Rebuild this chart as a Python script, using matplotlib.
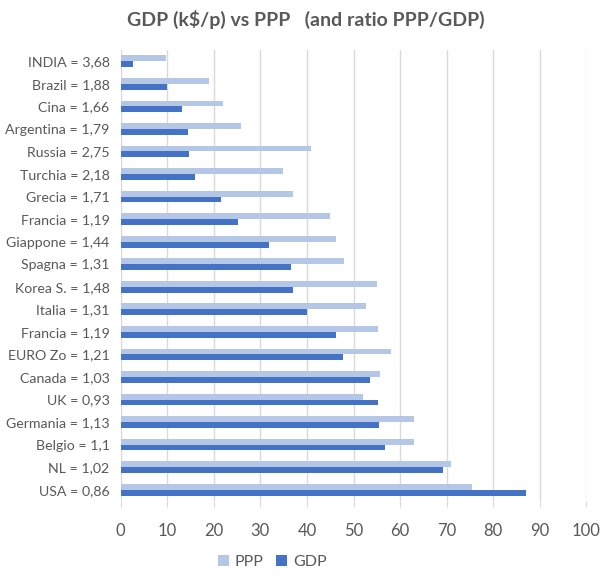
import matplotlib.pyplot as plt
import numpy as np

# categories from bottom (USA) to top (INDIA), as drawn
labels = ["USA = 0,86", "NL = 1,02", "Belgio = 1,1", "Germania = 1,13", "UK = 0,93",
          "Canada = 1,03", "EURO Zo = 1,21", "Francia = 1,19", "Italia = 1,31",
          "Korea S. = 1,48", "Spagna = 1,31", "Giappone = 1,44", "Francia = 1,19",
          "Grecia = 1,71", "Turchia = 2,18", "Russia = 2,75", "Argentina = 1,79",
          "Cina = 1,66", "Brazil = 1,88", "INDIA = 3,68"]
gdp = [87.0, 69.2, 56.7, 55.4, 55.2, 53.5, 47.7, 46.2, 40.0, 37.0,
       36.5, 31.8, 25.2, 21.5, 16.0, 14.7, 14.4, 13.15, 9.9, 2.6]
ppp = [75.4, 70.9, 62.9, 62.9, 52.0, 55.6, 58.0, 55.2, 52.6, 55.0,
       47.9, 46.2, 44.9, 37.0, 34.8, 40.8, 25.8, 21.9, 18.9, 9.7]

text_col = "#595959"
plt.rcParams["font.family"] = ["Lato", "DejaVu Sans"]

fig = plt.figure(figsize=(6.15, 5.78), dpi=100)
ax = fig.add_axes([120.7 / 615, 1 - 501 / 578, (586.3 - 120.7) / 615, (501 - 50) / 578])

y = np.arange(len(labels))
h = 0.26
ax.barh(y + h / 2, ppp, height=h, color="#b4c7e7", label="PPP", zorder=3)
ax.barh(y - h / 2, gdp, height=h, color="#4472c4", label="GDP", zorder=3)

ax.set_xlim(0, 100)
ax.set_ylim(-0.5, len(labels) - 0.5)
ax.set_xticks(np.arange(0, 101, 10))
ax.set_yticks(y)
ax.set_yticklabels(labels)
ax.grid(axis="x", color="#d9d9d9", linewidth=1, zorder=0)
for s in ax.spines.values():
    s.set_visible(False)
ax.tick_params(axis="y", length=0, pad=8, labelsize=10.2, labelcolor=text_col)
ax.tick_params(axis="x", length=4, color="#d9d9d9", pad=12, labelsize=12, labelcolor=text_col)

fig.suptitle("GDP (k$/p) vs PPP   (and ratio PPP/GDP)", x=0.497, y=0.983,
             fontsize=14, fontweight="bold", color=text_col)
fig.legend(loc="center", bbox_to_anchor=(272 / 615, 1 - 562 / 578), ncol=2, frameon=False,
           fontsize=11.5, labelcolor=text_col, handlelength=0.7, handleheight=0.7,
           columnspacing=0.8, handletextpad=0.35)

fig.savefig("out.png", dpi=100)
